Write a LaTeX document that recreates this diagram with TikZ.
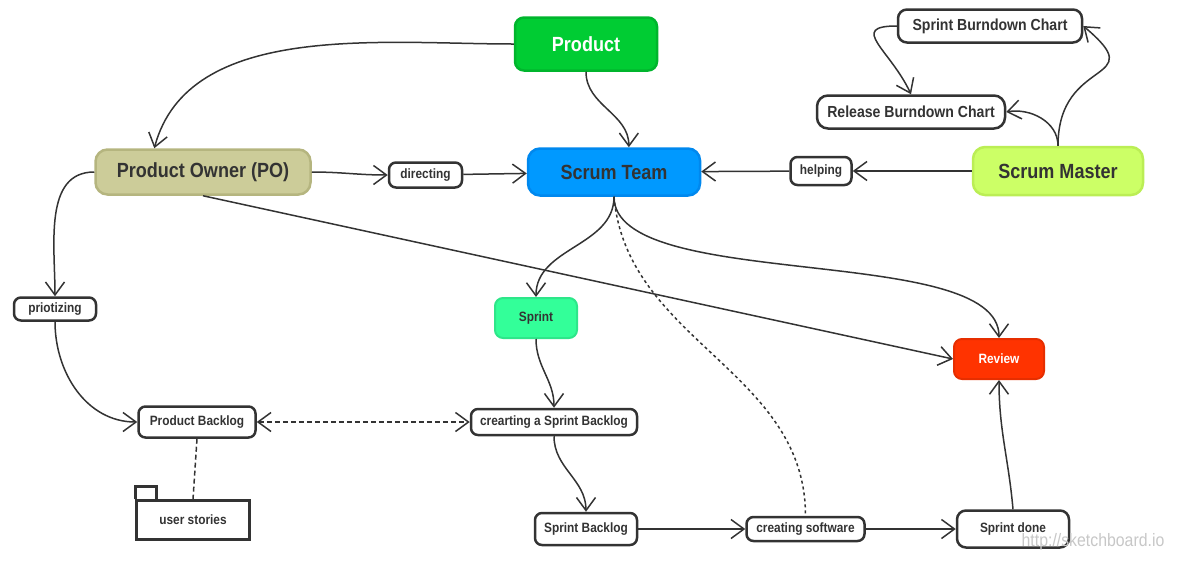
\documentclass[tikz,border=0pt]{standalone}
\usepackage{fontspec}
\setmainfont{Liberation Sans}[FakeStretch=0.88]
\usepackage{tikz}
\usetikzlibrary{arrows.meta,positioning}
\definecolor{ink}{HTML}{333333}
\definecolor{prodfill}{HTML}{00CC33}
\definecolor{proddraw}{HTML}{00B52D}
\definecolor{pofill}{HTML}{CCCC99}
\definecolor{podraw}{HTML}{B5B57F}
\definecolor{teamfill}{HTML}{0099FF}
\definecolor{teamdraw}{HTML}{0088EE}
\definecolor{masterfill}{HTML}{CCFF66}
\definecolor{masterdraw}{HTML}{BBEE55}
\definecolor{sprintfill}{HTML}{33FF99}
\definecolor{sprintdraw}{HTML}{2EE68A}
\definecolor{reviewfill}{HTML}{FF3300}
\definecolor{reviewdraw}{HTML}{E62E00}

\begin{document}
\begin{tikzpicture}[x=1pt,y=-1pt,>={Straight Barb[length=13pt,width=19pt]}]
	\tikzstyle{main}=[rectangle, rounded corners=7pt, line width=2.5pt, draw=ink, fill=white]
	\tikzstyle{big}=[font=\fontsize{20.5}{22}\selectfont\bfseries, text=ink]
	\tikzstyle{small}=[font=\fontsize{13.5}{15}\selectfont\bfseries, text=ink]
	\tikzstyle{chart}=[font=\fontsize{16}{18}\selectfont\bfseries, text=ink]
	\tikzstyle{connect}=[->, line width=1.5pt, draw=ink]
	\tikzstyle{dots}=[line width=1.5pt, draw=ink, dash pattern=on 3pt off 3pt]
	\useasboundingbox (0,0) rectangle (1184,563);
	\node[main, rounded corners=9pt, draw=proddraw, fill=prodfill, minimum width=142pt, minimum height=53pt] (product) at (586,44) [label={[big,text=white]center:Product}] { };
		\node[main, rounded corners=12pt, draw=podraw, fill=pofill, minimum width=215pt, minimum height=45pt] (po) at (203,172) [label={[big]center:Product Owner (PO)}] { };
		\node[main, minimum width=73pt, minimum height=25pt] (directing) [right=76pt of po, yshift=-3pt, label={[small]center:directing}] { };
		\node[main, rounded corners=12pt, draw=teamdraw, fill=teamfill, minimum width=172pt, minimum height=47pt] (team) at (614,172) [label={[big]center:Scrum Team}] { };
			\node[main, rounded corners=12pt, draw=masterdraw, fill=masterfill, minimum width=170pt, minimum height=48pt] (master) at (1058,171) [label={[big]center:Scrum Master}] { };
			\node[main, minimum width=61pt, minimum height=28pt] (helping) [left=119pt of master, label={[small]center:helping}] { };
				\node[main, rounded corners=9pt, minimum width=184pt, minimum height=33pt] (sprintchart) at (990,26) [label={[chart]center:Sprint Burndown Chart}] { };
				\node[main, rounded corners=11pt, minimum width=188pt, minimum height=33pt] (releasechart) at (911,112) [label={[chart]center:Release Burndown Chart}] { };
	\node[main, minimum width=82pt, minimum height=23pt] (priotizing) at (55,309) [label={[small]center:priotizing}] { };
		\node[main, minimum width=117pt, minimum height=31pt] (pbacklog) at (197,422) [label={[small]center:Product Backlog}] { };
		\node[rectangle, line width=2.5pt, draw=ink, minimum width=113pt, minimum height=39pt] (stories) at (193,520) [label={[small]center:user stories}] { };
	\node[main, rounded corners=8pt, line width=2pt, draw=sprintdraw, fill=sprintfill, minimum width=82pt, minimum height=40pt] (sprint) at (536,318) [label={[small]center:Sprint}] { };
		\node[main, minimum width=166pt, minimum height=26pt] (sbcreate) at (554,422) [label={[small]center:crearting a Sprint Backlog}] { };
		\node[main, minimum width=102pt, minimum height=32pt] (sbacklog) at (586,529) [label={[small]center:Sprint Backlog}] { };
			\node[main, minimum width=118pt, minimum height=24pt] (software) [right=107pt of sbacklog, label={[small]center:creating software}] { };
			\node[main, rounded corners=9pt, minimum width=112pt, minimum height=37pt] (done) [right=90pt of software, label={[small]center:Sprint done}] { };
	\node[main, rounded corners=8pt, line width=2pt, draw=reviewdraw, fill=reviewfill, minimum width=90pt, minimum height=40pt] (review) at (999,359) [label={[small,text=white]center:Review}] { };
	\node[font=\fontsize{18}{20}\selectfont, text=black!22] (mark) at (1093,542) {http://sketchboard.io};

	\draw[line width=2.5pt, draw=ink] (stories.north west) -- ++(0,-13) -- ++(21,0) -- ++(0,13);

	\path (product) edge [connect, out=180, in=75, looseness=0.9] (po.154)
		(product.south) edge [connect, out=-90, in=90] (team.59)
		(po) edge [connect, out=0, in=180] (directing)
		(directing) edge [connect] (team)
		(master) edge [connect] (helping)
		(helping) edge [connect] (team)
		(master.north) edge [connect, out=90, in=10] (releasechart.east)
		(master.north) edge [connect, out=90, in=-40, looseness=1.9] (sprintchart.east)
		(sprintchart.west) edge [connect, out=180, in=115, looseness=1.8] (releasechart.north)
		(po.west) edge [connect, out=180, in=90] (priotizing.north)
		(priotizing.south) edge [connect, out=-90, in=180] (pbacklog.west)
		(po.south) edge [connect] (review.west)
		(team.south) edge [connect, out=-90, in=90] (sprint.north)
		(team.south) edge [connect, out=-90, in=90, looseness=0.6] (review.north)
		(team.south) edge [dots, out=-85, in=90] (software.north)
		(sprint.south) edge [connect, out=-90, in=90] (sbcreate.north)
		(pbacklog) edge [connect, <->, dash pattern=on 5pt off 3pt] (sbcreate)
		(pbacklog.south) edge [dots, dash pattern=on 5pt off 3pt] (stories.north)
		(sbcreate.south) edge [connect, out=-90, in=90] (sbacklog.north)
		(sbacklog) edge [connect] (software)
		(software) edge [connect] (done)
		(done.north) edge [connect, out=95, in=-90] (review.south);
\end{tikzpicture}
\end{document}
